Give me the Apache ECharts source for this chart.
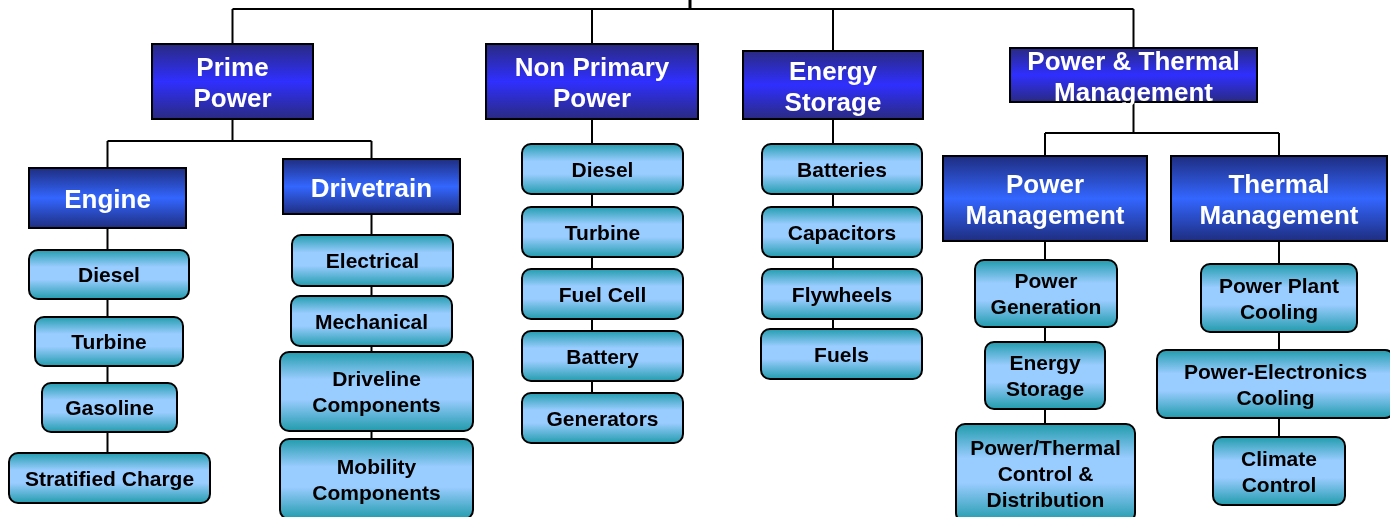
<!DOCTYPE html>
<html><head><meta charset="utf-8">
<script src="https://cdn.jsdelivr.net/npm/echarts@6/dist/echarts.min.js"></script>
<style>html,body{margin:0;padding:0;background:#fff}#c{width:1390px;height:517px}</style>
</head><body><div id="c"></div>
<script>
// ---------- content (labels & hierarchy) ----------
const topBranches = ['Prime\nPower', 'Non Primary\nPower', 'Energy\nStorage', 'Power & Thermal\nManagement'];
const primeGroups = ['Engine', 'Drivetrain'];
const engineItems = ['Diesel', 'Turbine', 'Gasoline', 'Stratified Charge'];
const drivetrainItems = ['Electrical', 'Mechanical', 'Driveline\nComponents', 'Mobility\nComponents'];
const nonPrimaryItems = ['Diesel', 'Turbine', 'Fuel Cell', 'Battery', 'Generators'];
const storageItems = ['Batteries', 'Capacitors', 'Flywheels', 'Fuels'];
const thermalGroups = ['Power\nManagement', 'Thermal\nManagement'];
const powerMgmtItems = ['Power\nGeneration', 'Energy\nStorage', 'Power/Thermal\nControl &\nDistribution'];
const thermalMgmtItems = ['Power Plant\nCooling', 'Power-Electronics\nCooling', 'Climate\nControl'];

// ---------- layout (box geometry in canvas units: x0, y0, x1, y1) ----------
const CANVAS_W = 1390, CANVAS_H = 517;
const ROOT_X = 690, ROOT_Y = 9;
const topBoxes = [[152, 44, 313, 119], [486, 44, 698, 119], [743, 51, 923, 119], [1010, 48, 1257, 102]];
const primeGroupBoxes = [[29, 168, 186, 228], [283, 159, 460, 214]];
const primeBranchY = 141;
const engineBoxes = [[29, 250, 189, 299], [35, 317, 183, 366], [42, 383, 177, 432], [9, 453, 210, 503]];
const drivetrainBoxes = [[292, 235, 453, 286], [291, 296, 452, 346], [280, 352, 473, 431], [280, 439, 473, 519]];
const nonPrimaryBoxes = [[522, 144, 683, 194], [522, 207, 683, 257], [522, 269, 683, 319], [522, 331, 683, 381], [522, 393, 683, 443]];
const storageBoxes = [[762, 144, 922, 194], [762, 207, 922, 257], [762, 269, 922, 319], [761, 329, 922, 379]];
const thermalGroupBoxes = [[943, 156, 1147, 241], [1171, 156, 1387, 241]];
const thermalBranchY = 133;
const powerMgmtBoxes = [[975, 260, 1117, 327], [985, 342, 1105, 409], [956, 424, 1135, 522]];
const thermalMgmtBoxes = [[1201, 264, 1357, 332], [1157, 350, 1394, 418], [1213, 437, 1345, 505]];

// ---------- build nodes ----------
const nodes = [];
function add(labels, boxes, kind) { labels.forEach((t, i) => nodes.push({ text: t, box: boxes[i], kind })); }
add(topBranches, topBoxes, 'l1');
add(primeGroups, primeGroupBoxes, 'l2');
add(thermalGroups, thermalGroupBoxes, 'l2');
add(engineItems, engineBoxes, 'leaf');
add(drivetrainItems, drivetrainBoxes, 'leaf');
add(nonPrimaryItems, nonPrimaryBoxes, 'leaf');
add(storageItems, storageBoxes, 'leaf');
add(powerMgmtItems, powerMgmtBoxes, 'leaf');
add(thermalMgmtItems, thermalMgmtBoxes, 'leaf');

// ---------- build connectors ----------
const cx = b => (b[0] + b[2]) / 2;
const segs = [];
segs.push([ROOT_X, -5, ROOT_X, ROOT_Y, 3]);
segs.push([cx(topBoxes[0]), ROOT_Y, cx(topBoxes[3]), ROOT_Y, 2]);
topBoxes.forEach(b => segs.push([cx(b), ROOT_Y, cx(b), b[1], 2]));
function branch(parent, kids, midY) {
  segs.push([cx(parent), parent[3], cx(parent), midY, 2]);
  segs.push([cx(kids[0]), midY, cx(kids[kids.length - 1]), midY, 2]);
  kids.forEach(k => segs.push([cx(k), midY, cx(k), k[1], 2]));
}
function stack(parent, kids) {
  segs.push([cx(parent), parent[3], cx(parent), kids[kids.length - 1][1], 2]);
}
branch(topBoxes[0], primeGroupBoxes, primeBranchY);
branch(topBoxes[3], thermalGroupBoxes, thermalBranchY);
stack(primeGroupBoxes[0], engineBoxes);
stack(primeGroupBoxes[1], drivetrainBoxes);
stack(topBoxes[1], nonPrimaryBoxes);
stack(topBoxes[2], storageBoxes);
stack(thermalGroupBoxes[0], powerMgmtBoxes);
stack(thermalGroupBoxes[1], thermalMgmtBoxes);

// ---------- styles ----------
const G = echarts.graphic;
const fills = {
  l1: () => new G.LinearGradient(0, 0, 0, 1, [{ offset: 0, color: '#2a2a7e' }, { offset: 0.5, color: '#2f2fff' }, { offset: 1, color: '#2a2a7e' }]),
  l2: () => new G.LinearGradient(0, 0, 0, 1, [{ offset: 0, color: '#1e2c7c' }, { offset: 0.5, color: '#3366ff' }, { offset: 1, color: '#1e2c7c' }]),
  leaf: () => new G.LinearGradient(0, 0, 0, 1, [{ offset: 0, color: '#1d9aaa' }, { offset: 0.35, color: '#99ccff' }, { offset: 0.6, color: '#99ccff' }, { offset: 1, color: '#1d9aaa' }])
};
const FONT = '"Liberation Sans", Arial, sans-serif';

const chart = echarts.init(document.getElementById('c'), null, { renderer: 'canvas' });
chart.setOption({
  backgroundColor: '#ffffff',
  animation: false,
  grid: { left: 0, right: 0, top: 0, bottom: 0 },
  xAxis: { type: 'value', min: 0, max: CANVAS_W, show: false },
  yAxis: { type: 'value', min: 0, max: CANVAS_H, inverse: true, show: false },
  series: [
    {
      type: 'custom', clip: false, silent: true, z: 1,
      data: segs,
      renderItem: (params, api) => {
        const s = segs[params.dataIndex];
        const p0 = api.coord([s[0], s[1]]), p1 = api.coord([s[2], s[3]]);
        return { type: 'line', shape: { x1: p0[0], y1: p0[1], x2: p1[0], y2: p1[1] }, style: { stroke: '#000', lineWidth: s[4] } };
      }
    },
    {
      type: 'custom', clip: false, silent: true, z: 2,
      data: nodes.map((n, i) => i),
      renderItem: (params, api) => {
        const n = nodes[params.dataIndex];
        const p0 = api.coord([n.box[0], n.box[1]]), p1 = api.coord([n.box[2], n.box[3]]);
        const w = p1[0] - p0[0], h = p1[1] - p0[1];
        const leaf = n.kind === 'leaf';
        return {
          type: 'group',
          children: [
            { type: 'rect', shape: { x: p0[0], y: p0[1], width: w, height: h, r: leaf ? 9 : 0 },
              style: { fill: fills[n.kind](), stroke: '#000', lineWidth: 2 } },
            { type: 'text', style: {
                text: n.text, x: p0[0] + w / 2, y: p0[1] + h / 2 + (leaf ? 2 : 3), align: 'center', verticalAlign: 'middle',
                fill: leaf ? '#000' : '#fff',
                font: (leaf ? 'bold 21px ' : 'bold 26px ') + FONT,
                lineHeight: leaf ? 26 : 31 } }
          ]
        };
      }
    }
  ]
});
</script></body></html>
